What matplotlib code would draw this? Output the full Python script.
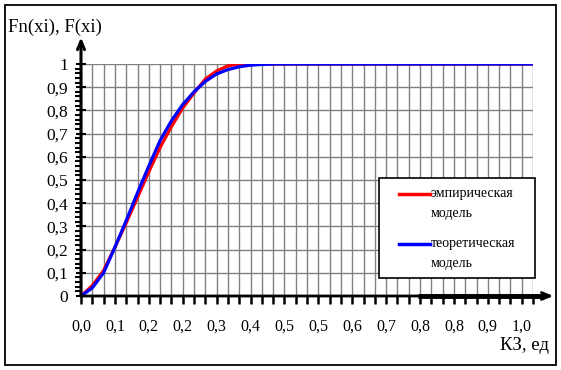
import matplotlib
matplotlib.use("Agg")
import matplotlib.pyplot as plt
from matplotlib.patches import Rectangle
from matplotlib.lines import Line2D
from matplotlib.ticker import MultipleLocator

plt.rcParams['font.family'] = ['Liberation Serif', 'DejaVu Serif']

# ---- data ----
n_cat = 41
x_labels = ['0,0', '0,1', '0,2', '0,2', '0,3', '0,4', '0,5', '0,5', '0,6',
            '0,7', '0,8', '0,8', '0,9', '1,0']
y_labels = ['0', '0,1', '0,2', '0,3', '0,4', '0,5', '0,6', '0,7', '0,8', '0,9', '1']
empirical = [0, 0.045, 0.11, 0.21, 0.315, 0.425, 0.535, 0.64, 0.73, 0.81,
             0.875, 0.935, 0.97, 0.992, 1.0] + [1.0] * 26
theoretical = [0, 0.035, 0.10, 0.21, 0.325, 0.445, 0.56, 0.67, 0.755, 0.825,
               0.88, 0.925, 0.957, 0.976, 0.988, 0.995, 0.998] + [1.0] * 24
label_emp = 'эмпирическая\nмодель'
label_theo = 'теоретическая\nмодель'
y_title = 'Fn(xi), F(xi)'
x_title = 'КЗ, ед'

W, H = 561, 370
fig = plt.figure(figsize=(W / 100, H / 100), dpi=100)

def fx(px):
    return px / W

def fy(py):
    return 1 - py / H

ax_l, ax_r, ax_t, ax_b = 81, 533, 64, 296
ax = fig.add_axes([fx(ax_l), fy(ax_b), (ax_r - ax_l) / W, (ax_b - ax_t) / H])
ax.set_xlim(0, n_cat - 1)
ax.set_ylim(0, 1)

for s in ax.spines.values():
    s.set_visible(False)

xs = list(range(n_cat))
ax.set_xticks(xs)
xt = []
k = 0
for i in xs:
    if i % 3 == 0 and k < len(x_labels):
        xt.append(x_labels[k]); k += 1
    else:
        xt.append('')
ax.set_xticklabels(xt, fontsize=11.5)
ax.set_yticks([i / 10 for i in range(11)])
ax.set_yticklabels(y_labels, fontsize=12.5)
ax.yaxis.set_minor_locator(MultipleLocator(0.02))
ax.tick_params(axis='x', which='major', direction='out', length=6, width=1.8,
               pad=10, color='black')
ax.tick_params(axis='y', which='major', direction='inout', length=7, width=1.5,
               pad=6, color='black')
ax.tick_params(axis='y', which='minor', direction='out', length=4, width=1.5,
               color='black')

ax.grid(True, which='major', color='#808080', linewidth=1.0)
ax.set_axisbelow(True)

ax.plot(xs, empirical, color='#FF0000', linewidth=2.3, zorder=3)
ax.plot(xs, theoretical, color='#0000FF', linewidth=2.3, zorder=4)

# axes with arrows
ax.annotate('', xy=(0, 1.115), xycoords='axes fraction', xytext=(0, 0),
            arrowprops=dict(arrowstyle='->,head_length=0.6,head_width=0.25',
                            color='black', lw=2.2, shrinkA=0, shrinkB=0),
            annotation_clip=False, zorder=6)
ax.annotate('', xy=(1.045, 0), xycoords='axes fraction', xytext=(0, 0),
            arrowprops=dict(arrowstyle='->,head_length=0.6,head_width=0.25',
                            color='black', lw=2.0, shrinkA=0, shrinkB=0),
            annotation_clip=False, zorder=6)
ax.plot([0.746, 1.025], [0, 0], transform=ax.transAxes, color='black',
        linewidth=3.5, clip_on=False, zorder=6, solid_capstyle='butt')

# titles
fig.text(fx(8), fy(27), y_title, fontsize=13.5, ha='left', va='center')
fig.text(fx(549), fy(346), x_title, fontsize=13.5, ha='right', va='center')

# legend box
fig.patches.append(Rectangle((fx(379), fy(278)), fx(535) - fx(379), fy(178) - fy(278),
                             transform=fig.transFigure, facecolor='white',
                             edgecolor='black', linewidth=1.2, zorder=10))
for yline, col, lab in [(194, '#FF0000', label_emp), (244, '#0000FF', label_theo)]:
    fig.lines.append(Line2D([fx(399), fx(430)], [fy(yline), fy(yline)],
                            transform=fig.transFigure, color=col, linewidth=2.5,
                            zorder=11))
    l1, l2 = lab.split('\n')
    fig.text(fx(431), fy(yline), l1, fontsize=10, ha='left', va='center', zorder=12)
    fig.text(fx(431), fy(yline + 19), l2, fontsize=10, ha='left', va='center', zorder=12)

# outer border
fig.patches.append(Rectangle((fx(5), fy(365)), fx(556) - fx(5), fy(5) - fy(365),
                             transform=fig.transFigure, facecolor='none',
                             edgecolor='black', linewidth=1.3, zorder=20))

fig.savefig('out.png', dpi=100)
